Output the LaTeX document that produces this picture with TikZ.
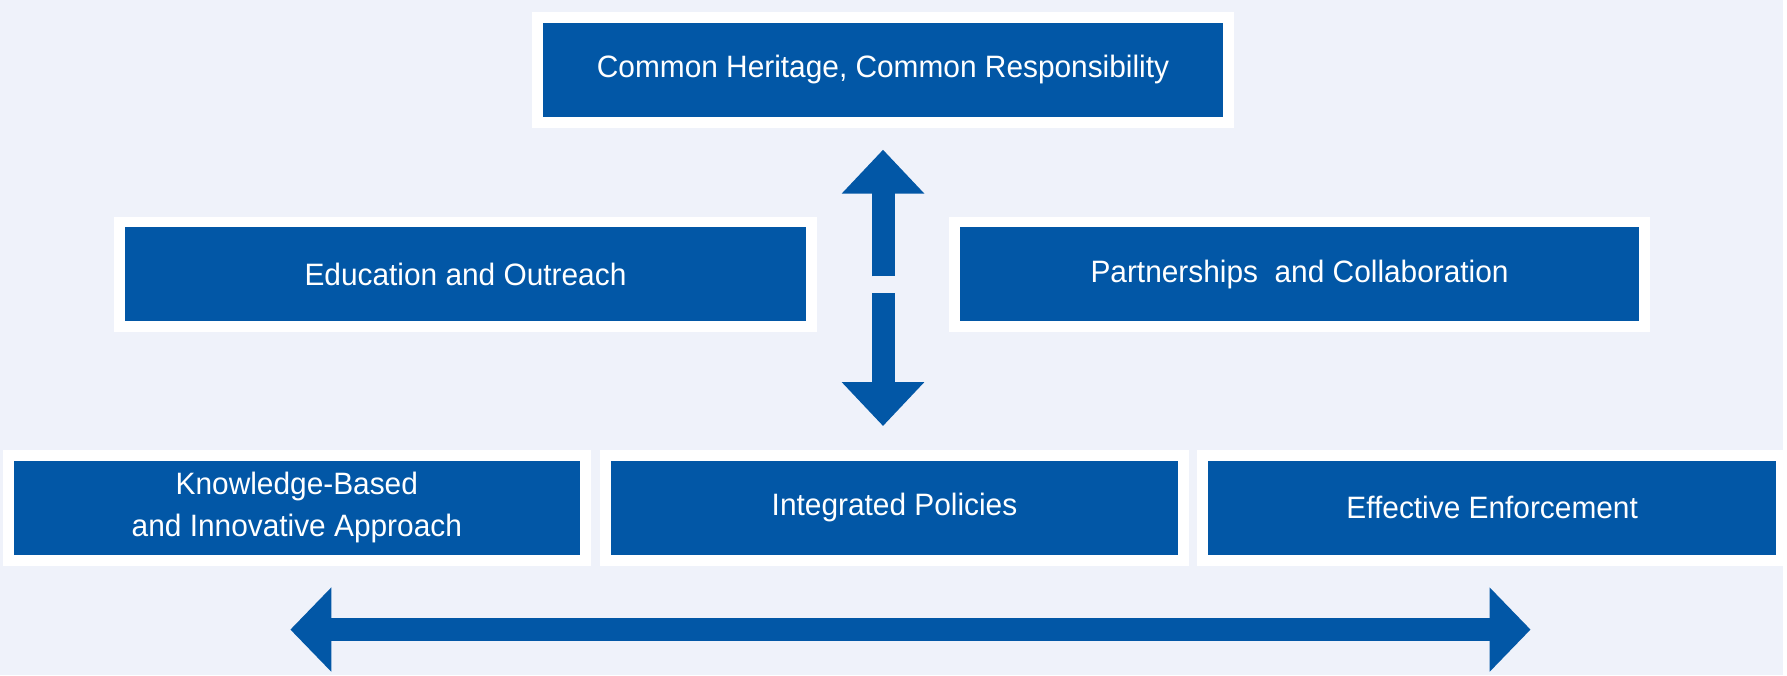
\documentclass[tikz,border=0pt]{standalone}
\usepackage{fontspec}
\setmainfont[FakeStretch=0.965]{Liberation Sans}
\usetikzlibrary{arrows.meta,positioning,calc}
\definecolor{plblue}{RGB}{2,87,166}
\definecolor{plback}{RGB}{239,242,250}
\tikzstyle{pillar}=[draw=white,fill=plblue,line width=11pt,text=white,align=center,inner sep=0pt,minimum height=105pt,font=\fontsize{31}{42}\selectfont]
\tikzstyle{blockarrow}=[draw=plblue,line width=23pt,>={Triangle[length=44pt,width=80pt]}]

\begin{document}
\begin{tikzpicture}[
        x=1pt,
        y=-1pt,
        node distance=599pt
        ]
        \fill[plback] (0,0) rectangle (1787,677);
        \node[pillar, minimum width=693pt](top) at (885,70) {Common Heritage, Common Responsibility};
        \node[pillar, minimum width=694pt](edu) at (466.5,275) {Education and Outreach};
        \node[pillar, minimum width=692pt](part) [right of=edu, xshift=237pt] {Partnerships\ \ and Collaboration};
        \node[pillar, minimum width=578pt](kba) at (297.5,509) {Knowledge-Based\\and Innovative Approach};
        \node[pillar, minimum width=580pt](integ) [right of=kba] {Integrated Policies};
        \node[pillar, minimum width=580pt](enf) [right of=integ] {Effective Enforcement};
        % arrows
        \coordinate (gapup) at (885,277);
        \coordinate (gapdn) at (885,294);
        \coordinate (wl) at (291,631);
        \coordinate (wr) at (1534,631);
        \draw[blockarrow,->,shorten >=22pt] (gapup) -- (gapup |- top.south);
        \draw[blockarrow,->,shorten >=24pt] (gapdn) -- (gapdn |- integ.north);
        \draw[blockarrow,<->,>={Triangle[length=41pt,width=82pt]}] (wl) -- (wr);
    \end{tikzpicture}
\end{document}
